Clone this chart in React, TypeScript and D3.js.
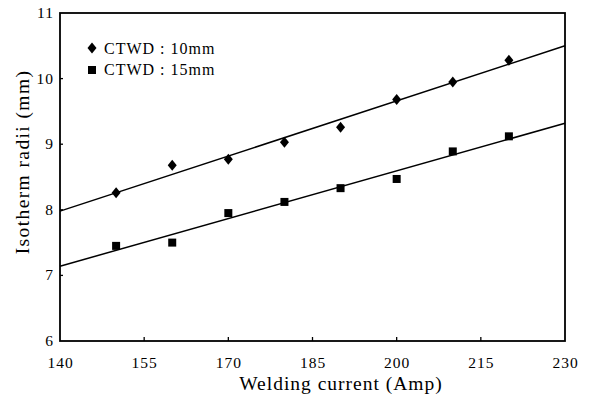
import React from 'react';
import * as d3 from 'd3';

const currents = [150, 160, 170, 180, 190, 200, 210, 220];
const radii10 = [8.26, 8.68, 8.77, 9.03, 9.26, 9.68, 9.95, 10.28];
const radii15 = [7.45, 7.5, 7.95, 8.12, 8.33, 8.47, 8.89, 9.12];
const fit10 = [[140, 7.98], [230, 10.5]];
const fit15 = [[140, 7.14], [230, 9.32]];
const xTicks = [140, 155, 170, 185, 200, 215, 230];
const yTicks = [6, 7, 8, 9, 10, 11];

const App = () => {
  const width = 590;
  const height = 401;
  const margin = { top: 13, right: 25, bottom: 60, left: 60 };
  const font = '"Liberation Serif", "DejaVu Serif", serif';

  const x = d3.scaleLinear().domain([140, 230]).range([margin.left, width - margin.right]);
  const y = d3.scaleLinear().domain([6, 11]).range([height - margin.bottom, margin.top]);

  const line = d3
    .line<number[]>()
    .x((d) => x(d[0]))
    .y((d) => y(d[1]));

  const diamond = (cx: number, cy: number) =>
    `M${cx},${cy - 5.5}L${cx + 4.5},${cy}L${cx},${cy + 5.5}L${cx - 4.5},${cy}Z`;

  return (
    <div style={{ position: 'fixed', left: 0, top: 0 }}>
      <svg width={width} height={height} style={{ display: 'block', background: '#fff' }}>
        <rect
          x={x(140)}
          y={y(11)}
          width={x(230) - x(140)}
          height={y(6) - y(11)}
          fill='none'
          stroke='#000'
          strokeWidth={1.8}
        />
        {xTicks.slice(1, -1).map((t) => (
          <line key={t} x1={x(t)} x2={x(t)} y1={y(6)} y2={y(6) - 4} stroke='#000' strokeWidth={1.3} />
        ))}
        {yTicks.slice(1, -1).map((t) => (
          <line key={t} x1={x(140)} x2={x(140) + 3} y1={y(t)} y2={y(t)} stroke='#000' strokeWidth={1.3} />
        ))}
        {xTicks.map((t) => (
          <text key={t} x={x(t) + 0.5} y={368} textAnchor='middle' fontFamily={font} fontSize={15.5} letterSpacing={1} fill='#000'>
            {t}
          </text>
        ))}
        {yTicks.map((t) => (
          <text key={t} x={54} y={y(t) + 5} textAnchor='end' fontFamily={font} fontSize={15.5} letterSpacing={1} fill='#000'>
            {t}
          </text>
        ))}

        <path d={line(fit10) || ''} fill='none' stroke='#000' strokeWidth={1.5} />
        <path d={line(fit15) || ''} fill='none' stroke='#000' strokeWidth={1.5} />

        {currents.map((c, i) => (
          <path key={'d' + c} d={diamond(x(c), y(radii10[i]))} fill='#000' />
        ))}
        {currents.map((c, i) => (
          <rect key={'s' + c} x={x(c) - 4} y={y(radii15[i]) - 4} width={8} height={8} fill='#000' />
        ))}

        {/* legend */}
        <path d={diamond(92, 48)} fill='#000' />
        <text x={104} y={54} fontFamily={font} fontSize={16} letterSpacing={1} fill='#000'>CTWD : 10mm</text>
        <rect x={88} y={66} width={8} height={8} fill='#000' />
        <text x={104} y={75} fontFamily={font} fontSize={16} letterSpacing={1} fill='#000'>CTWD : 15mm</text>

        <text x={341} y={390} textAnchor='middle' fontFamily={font} fontSize={19.5} letterSpacing={1} fill='#000'>
          Welding current (Amp)
        </text>
        <text
          transform='translate(29,162) rotate(-90)'
          textAnchor='middle'
          fontFamily={font}
          fontSize={19.5}
          letterSpacing={1.4}
          fill='#000'
        >
          Isotherm radii (mm)
        </text>
      </svg>
    </div>
  );
};

export default App;
